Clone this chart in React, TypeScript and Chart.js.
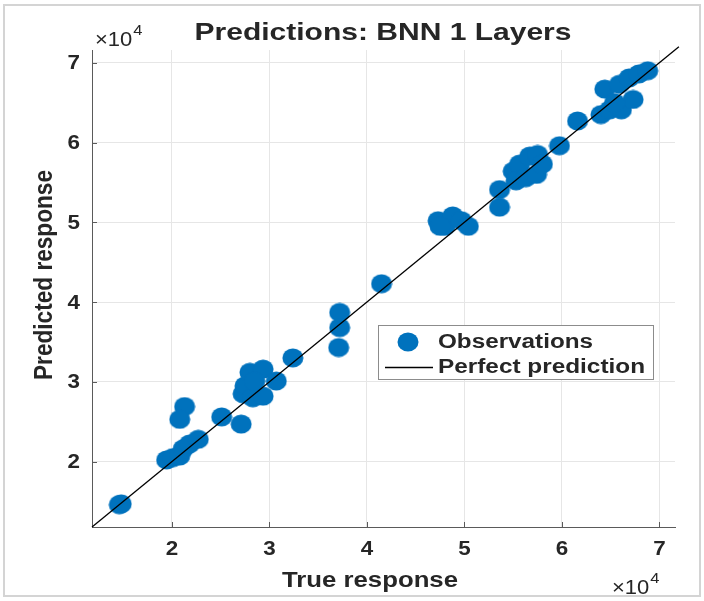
import React, { useEffect, useRef } from 'react';
import { Chart, registerables } from 'chart.js';

Chart.register(...registerables);

// ---- data ----
const trueResponse = [
  14600, 14800, 19450, 20100, 20800, 21150, 21800, 22700, 21300, 20800,
  25100, 27100, 27300, 27500, 28000, 29350, 28300, 29350, 30700, 28500,
  32400, 37200, 37200, 37100, 41500, 47300, 48000, 48800, 49700, 50400,
  47500, 53600, 53600, 55000, 55650, 56700, 57500, 55300, 56300, 57400,
  58000, 59750, 61600, 64400, 64000, 64900, 66100, 67300, 65900, 66900,
  67900, 68800, 65400,
];
const predictedResponse = [
  14600, 14700, 20200, 20500, 20700, 21600, 22200, 22800, 26900, 25300,
  25600, 24700, 28500, 29500, 31200, 31600, 28000, 28200, 30100, 30100,
  33000, 38700, 36800, 34300, 42300, 50200, 49500, 50800, 50200, 49500,
  49500, 54100, 51900, 56400, 57300, 58300, 58500, 55200, 55600, 56000,
  57300, 59600, 62700, 66700, 63500, 64100, 64100, 65400, 67300, 68100,
  68600, 69000, 65000,
];
const perfectLine = [11800, 72000];
const tickValues = [20000, 30000, 40000, 50000, 60000, 70000];
const tickLabels = ['2', '3', '4', '5', '6', '7'];
const axisMin = 11800;
const axisMax = 71600;
const titleText = 'Predictions: BNN 1 Layers';
const xLabel = 'True response';
const yLabel = 'Predicted response';
const legendLabels = ['Observations', 'Perfect prediction'];
const exponentBase = '\u00d710';
const exponentPower = '4';

const BLUE = '#0072BD';
const TEXT = '#262626';
const FONT = '"Liberation Sans", Arial, Helvetica, sans-serif';

function drawText(
  ctx: CanvasRenderingContext2D,
  text: string,
  x: number,
  y: number,
  font: string,
  align: CanvasTextAlign,
  opts: { width?: number; sx?: number; rotate?: boolean; color?: string } = {}
): number {
  ctx.save();
  ctx.font = font;
  const w = ctx.measureText(text).width;
  ctx.translate(x, y);
  ctx.fillStyle = opts.color || TEXT;
  ctx.textAlign = align;
  ctx.textBaseline = 'middle';
  let s = 1;
  if (opts.rotate) {
    ctx.rotate(-Math.PI / 2);
    s = opts.width ? opts.width / w : 1;
    ctx.scale(s, opts.sx || 1);
  } else {
    s = opts.width ? opts.width / w : opts.sx || 1;
    ctx.scale(s, 1);
  }
  ctx.fillText(text, 0, 0);
  ctx.restore();
  return w * s;
}

function drawExponent(ctx: CanvasRenderingContext2D, x: number, y: number) {
  const w = drawText(ctx, exponentBase, x, y, `20px ${FONT}`, 'left', { sx: 1.1 });
  drawText(ctx, exponentPower, x + w + 1, y - 9, `15px ${FONT}`, 'left', { sx: 1.1 });
}

function drawMarker(ctx: CanvasRenderingContext2D, x: number, y: number) {
  ctx.save();
  ctx.fillStyle = BLUE;
  ctx.beginPath();
  ctx.ellipse(x, y, 10.5, 9.5, 0, 0, Math.PI * 2);
  ctx.fill();
  ctx.restore();
}

const decorPlugin = {
  id: 'decor',
  afterDraw(chart: any) {
    const ctx: CanvasRenderingContext2D = chart.ctx;
    const xs = chart.scales.x;
    const ys = chart.scales.y;
    const a = chart.chartArea;

    // inward tick marks
    ctx.save();
    ctx.strokeStyle = '#5a5a5a';
    ctx.lineWidth = 1;
    tickValues.forEach((v) => {
      const px = Math.round(xs.getPixelForValue(v)) + 0.5;
      ctx.beginPath();
      ctx.moveTo(px, a.bottom);
      ctx.lineTo(px, a.bottom - 5);
      ctx.stroke();
      const py = Math.round(ys.getPixelForValue(v)) + 0.5;
      ctx.beginPath();
      ctx.moveTo(a.left, py);
      ctx.lineTo(a.left + 5, py);
      ctx.stroke();
    });
    ctx.restore();

    // tick labels
    tickValues.forEach((v, i) => {
      drawText(ctx, tickLabels[i], xs.getPixelForValue(v), 549, `bold 20px ${FONT}`, 'center', { sx: 1.12 });
      drawText(ctx, tickLabels[i], 80, ys.getPixelForValue(v) + 1, `bold 20px ${FONT}`, 'right', { sx: 1.12 });
    });

    // exponent labels
    drawExponent(ctx, 95, 40);
    drawExponent(ctx, 612, 588);

    // title and axis titles
    drawText(ctx, titleText, 383, 33, `bold 24px ${FONT}`, 'center', { width: 377 });
    drawText(ctx, xLabel, 370, 581, `bold 22px ${FONT}`, 'center', { width: 176 });
    drawText(ctx, yLabel, 45, 275, `bold 22px ${FONT}`, 'center', { width: 210, sx: 1.15, rotate: true });

    // legend
    ctx.save();
    ctx.fillStyle = '#ffffff';
    ctx.fillRect(378.5, 325.5, 275, 54);
    ctx.strokeStyle = '#8c8c8c';
    ctx.lineWidth = 1;
    ctx.strokeRect(378.5, 325.5, 275, 54);
    ctx.restore();
    drawMarker(ctx, 408, 342);
    ctx.save();
    ctx.strokeStyle = '#000';
    ctx.lineWidth = 1.3;
    ctx.beginPath();
    ctx.moveTo(385, 367.5);
    ctx.lineTo(433, 367.5);
    ctx.stroke();
    ctx.restore();
    drawText(ctx, legendLabels[0], 438, 342, `bold 20px ${FONT}`, 'left', { width: 155 });
    drawText(ctx, legendLabels[1], 438, 367, `bold 20px ${FONT}`, 'left', { width: 207 });

    // outer figure frame
    ctx.save();
    ctx.strokeStyle = '#d4d4d4';
    ctx.lineWidth = 2;
    ctx.strokeRect(4, 5, 696, 591);
    ctx.restore();
  },
};

export default function App() {
  const ref = useRef<HTMLCanvasElement | null>(null);

  useEffect(() => {
    document.body.style.margin = '0';
    const canvas = ref.current;
    if (!canvas) return;

    const img = document.createElement('canvas');
    img.width = 22;
    img.height = 20;
    const ictx = img.getContext('2d');
    if (ictx) {
      ictx.fillStyle = BLUE;
      ictx.beginPath();
      ictx.ellipse(11, 10, 10.5, 9.5, 0, 0, Math.PI * 2);
      ictx.fill();
    }

    const points = trueResponse.map((t, i) => ({ x: t, y: predictedResponse[i] }));
    const line = perfectLine.map((v) => ({ x: v, y: v }));

    const scaleBase = (isX: boolean) => ({
      type: 'linear' as const,
      min: axisMin,
      max: axisMax,
      afterBuildTicks: (s: any) => {
        s.ticks = tickValues.map((v) => ({ value: v }));
      },
      afterFit: (s: any) => {
        if (isX) s.height = 74;
        else s.width = 92;
      },
      grid: { color: '#e6e6e6', lineWidth: 1, drawTicks: false },
      border: { display: true, color: '#5a5a5a', width: 1 },
      ticks: { display: false },
    });

    const chart = new Chart(canvas, {
      type: 'scatter',
      data: {
        datasets: [
          {
            type: 'line',
            label: legendLabels[1],
            data: line,
            borderColor: '#000000',
            borderWidth: 1.3,
            pointRadius: 0,
            fill: false,
            clip: false,
            order: 0,
          } as any,
          {
            type: 'scatter',
            label: legendLabels[0],
            data: points,
            pointStyle: img as any,
            pointRadius: 10,
            backgroundColor: BLUE,
            borderWidth: 0,
            order: 1,
          } as any,
        ],
      },
      options: {
        animation: false,
        responsive: false,
        devicePixelRatio: 1,
        layout: { padding: { left: 0, right: 29, top: 50, bottom: 0 } },
        plugins: {
          legend: { display: false },
          tooltip: { enabled: false },
          title: { display: false },
        },
        scales: {
          x: scaleBase(true),
          y: scaleBase(false),
        } as any,
      },
      plugins: [decorPlugin],
    });

    return () => chart.destroy();
  }, []);

  return (
    <div style={{ width: 704, height: 601, background: '#ffffff' }}>
      <canvas ref={ref} width={704} height={601} style={{ display: 'block' }} />
    </div>
  );
}
